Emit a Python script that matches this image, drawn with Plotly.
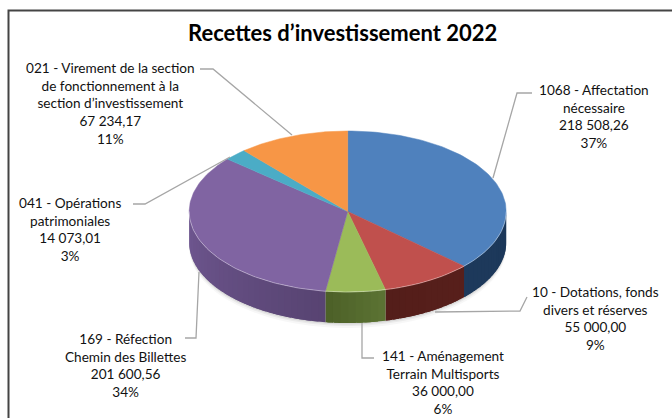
import numpy as np
import plotly.graph_objects as go

categories = ["1068 - Affectation<br>nécessaire",
              "10 - Dotations, fonds<br>divers et réserves",
              "141 - Aménagement<br>Terrain Multisports",
              "169 - Réfection<br>Chemin des Billettes",
              "041 - Opérations<br>patrimoniales",
              "021 - Virement de la section<br>de fonctionnement à la<br>section d’investissement"]
amounts = [218508.26, 55000.00, 36000.00, 201600.56, 14073.01, 67234.17]
amount_labels = ["218 508,26", "55 000,00", "36 000,00", "201 600,56", "14 073,01", "67 234,17"]
percent_labels = ["37%", "9%", "6%", "34%", "3%", "11%"]
top_colors = ["#4F81BD", "#C0504D", "#9BBB59", "#8064A2", "#4BACC6", "#F79646"]
side_start = [(28, 56, 90), (88, 32, 28), (92, 116, 52), (88, 68, 114), (40, 90, 105), (150, 90, 40)]
side_end = [(30, 58, 92), (84, 30, 26), (76, 96, 40), (112, 88, 146), (50, 110, 125), (180, 110, 50)]

CX, CY, RX, RY, DEPTH = 347.7, 211.5, 158.5, 80.5, 31.0
label_pos = [(594, 116), (595, 318), (443, 382), (125, 365), (70, 229), (110, 103)]
leaders = ["M493,178 L517,93 L532,93", "M435,312 L520,311 L527,297", "M362,323 L362,358 L374,358",
           "M199,272 L196,338 L185,338", "M230,157 L145,204 L133,204", "M292,135 L213,69 L200,69"]

fracs = np.array(amounts) / sum(amounts)
edges = np.concatenate([[0], np.cumsum(fracs)]) * 2 * np.pi


def px(t):
    return CX + RX * np.sin(t)


def py(t):
    return CY - RY * np.cos(t)


fig = go.Figure()

# soft shadow under the pie
for grow, col in [(5, "rgba(0,0,0,0.03)"), (3, "rgba(0,0,0,0.05)"), (1.5, "rgba(0,0,0,0.07)")]:
    t = np.linspace(np.pi / 2, 3 * np.pi / 2, 60)
    fig.add_trace(go.Scatter(x=np.r_[px(t), px(t[::-1])],
                             y=np.r_[py(t) + DEPTH + grow, py(t[::-1])],
                             fill="toself", fillcolor=col, mode="none", hoverinfo="skip"))

# side wall, in overlapping narrow strips so the shading can vary
for i in range(len(amounts)):
    a, b = max(edges[i], np.pi / 2), min(edges[i + 1], 3 * np.pi / 2)
    if b <= a:
        continue
    n = max(1, int((b - a) / np.radians(2.5)))
    bounds = np.linspace(a, b, n + 1)
    for s in range(n):
        hi = min(bounds[s + 1] + 0.04, b)
        t = np.linspace(bounds[s], hi, 6)
        k = (s + 0.5) / n
        rgb = [int(d + (u - d) * k) for d, u in zip(side_start[i], side_end[i])]
        fig.add_trace(go.Scatter(x=np.r_[px(t), px(t[::-1])],
                                 y=np.r_[py(t), py(t[::-1]) + DEPTH],
                                 fill="toself", fillcolor=f"rgb({rgb[0]},{rgb[1]},{rgb[2]})",
                                 mode="none", hoverinfo="skip"))

# top faces
for i in range(len(amounts)):
    t = np.linspace(edges[i], edges[i + 1], 90)
    fig.add_trace(go.Scatter(x=np.r_[CX, px(t), CX], y=np.r_[CY, py(t), CY],
                             fill="toself", fillcolor=top_colors[i], mode="lines",
                             line=dict(color=top_colors[i], width=0.5), hoverinfo="skip"))

# pale rim
t = np.linspace(np.pi / 2, 3 * np.pi / 2, 120)
fig.add_trace(go.Scatter(x=px(t), y=py(t), mode="lines", line=dict(color="rgba(255,255,255,0.35)", width=1),
                         hoverinfo="skip"))

shapes = [dict(type="path", xref="x", yref="y", path="M8.5,430 L8.5,10.5 L680,10.5",
               line=dict(color="#444444", width=2))]
for p in leaders:
    shapes.append(dict(type="path", xref="x", yref="y", path=p, line=dict(color="#A6A6A6", width=1.3)))

annotations = [dict(x=342.5, y=32, xref="x", yref="y", text="<b>Recettes d’investissement 2022</b>", showarrow=False,
                    font=dict(family="Lato", size=22, color="#000000"))]
for i, c in enumerate(categories):
    annotations.append(dict(x=label_pos[i][0], y=label_pos[i][1], xref="x", yref="y",
                            text=f"{c}<br>{amount_labels[i]}<br>{percent_labels[i]}", showarrow=False,
                            align="center", font=dict(family="Lato", size=13.6, color="#111111")))

fig.update_layout(width=672, height=418, margin=dict(l=0, r=0, t=0, b=0), showlegend=False,
                  paper_bgcolor="white", plot_bgcolor="white", shapes=shapes, annotations=annotations,
                  xaxis=dict(range=[0, 672], visible=False, fixedrange=True),
                  yaxis=dict(range=[418, 0], visible=False, fixedrange=True))
fig.write_html("out.html", config=dict(displayModeBar=False),
               post_script="document.body.style.margin='0';document.documentElement.style.overflow='hidden';")
